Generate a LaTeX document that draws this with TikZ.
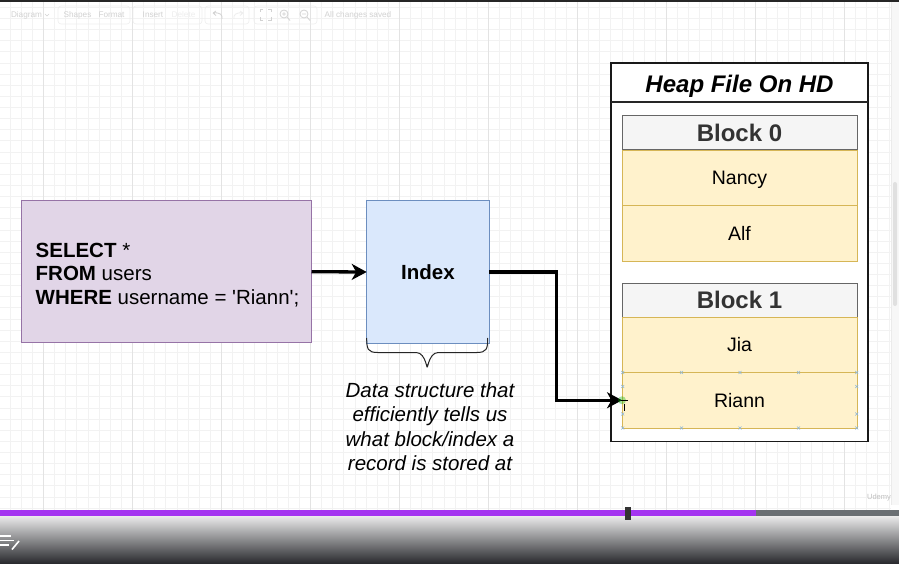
\documentclass[tikz,border=0pt]{standalone}
\usepackage{fontspec}
\setmainfont{Liberation Sans}[Ligatures=TeXOff]
\usetikzlibrary{arrows.meta}
\definecolor{gridminor}{HTML}{F2F2F2}
\definecolor{gridmajor}{HTML}{E3E3E3}
\definecolor{sqlfill}{HTML}{E1D5E7}
\definecolor{sqlline}{HTML}{9673A6}
\definecolor{idxfill}{HTML}{DAE8FC}
\definecolor{idxline}{HTML}{6C8EBF}
\definecolor{rowfill}{HTML}{FFF2CC}
\definecolor{rowline}{HTML}{D6B656}
\definecolor{hdrfill}{HTML}{F5F5F5}
\definecolor{hdrline}{HTML}{666666}
\definecolor{hdrtext}{HTML}{333333}
\definecolor{uifaint}{HTML}{D2D2D2}
\definecolor{uibox}{HTML}{EEEEEE}
\definecolor{selcol}{HTML}{8DB6D8}
\definecolor{udpurple}{HTML}{A435F0}
\definecolor{udgray}{HTML}{6A6F73}
\definecolor{uddark}{HTML}{26272B}
\begin{document}
\begin{tikzpicture}[x=1pt,y=-1pt,
  sqlbox/.style={draw=sqlline,fill=sqlfill,line width=1pt,inner sep=0pt,outer sep=0pt},
  idxbox/.style={draw=idxline,fill=idxfill,line width=1pt,inner sep=0pt,outer sep=0pt,
     text height=14.7pt,text depth=0pt,
     font=\fontsize{20.5}{24}\selectfont\bfseries},
  heapbox/.style={draw=black!90,fill=white,line width=1.4pt,inner sep=0pt,outer sep=0pt},
  heaptitle/.style={font=\fontsize{24}{28}\selectfont\bfseries\itshape,inner sep=0pt,
     text height=17.2pt,text depth=0pt},
  hdrbox/.style={draw=hdrline,fill=hdrfill,line width=1pt,inner sep=0pt,outer sep=0pt,
     minimum width=235pt,minimum height=34pt,anchor=north west,text=hdrtext,
     text height=17.2pt,text depth=0pt,
     font=\fontsize{24}{28}\selectfont\bfseries},
  rowbox/.style={draw=rowline,fill=rowfill,line width=0.9pt,inner sep=0pt,outer sep=0pt,
     minimum width=235pt,minimum height=55.5pt,anchor=north west,
     text height=14pt,text depth=0pt,
     font=\fontsize{19.5}{23}\selectfont},
  conn/.style={line width=3.3pt,-{Stealth[length=15pt,width=16pt,inset=4.5pt]}},
  captext/.style={align=center,font=\fontsize{20.5}{24.5}\selectfont\itshape,inner sep=0pt},
  uitext/.style={text=uifaint,font=\fontsize{8.2}{9}\selectfont,inner sep=0pt},
  uiframe/.style={draw=uibox,line width=0.6pt,rounded corners=3pt},
  uiicon/.style={draw=uifaint,line width=0.8pt},
  selx/.pic={\draw[selcol,line width=0.6pt] (-1.5,-1.5)--(1.5,1.5) (-1.5,1.5)--(1.5,-1.5);}
]
\useasboundingbox (0,0) rectangle (899,564);
\fill[white] (0,0) rectangle (899,564);
% grid
\foreach \i in {0,...,81} {
  \draw[gridminor,line width=0.6pt] ({-1.2+11.125*\i},2) -- ({-1.2+11.125*\i},520);
}
\foreach \j in {0,...,46} {
  \draw[gridminor,line width=0.6pt] (0,{7.3+11.125*\j}) -- (891,{7.3+11.125*\j});
}
\foreach \i in {0,...,9} {
  \draw[gridmajor,line width=0.7pt] ({43.3+89*\i},2) -- ({43.3+89*\i},520);
}
% top line
\fill[black!85] (0,0) rectangle (899,2);
% toolbar (faint)
\node[uitext] (tDiagram) at (26.5,15) {Diagram};
\draw[uiicon,line width=0.6pt] (45,14) -- (47,16) -- (49,14);
\draw[uiframe] (58,6) rectangle (130,24);
\node[uitext] (tShapes) at (77.5,15) {Shapes};
\node[uitext] (tFormat) at (111.5,15) {Format};
\draw[uiframe] (133,6) rectangle (202,24);
\node[uitext] (tInsert) at (153,15) {Insert};
\node[uitext,text=uibox] (tDelete) at (183.5,15) {Delete};
\draw[uiframe] (205,6) rectangle (249,24);
\draw[uiicon] (213,13) -- (216,11) (213,13) -- (216,15.5) (213,13) .. controls (220,12) and (223,15) .. (222,19);
\draw[uiicon,draw=uibox] (243,13) -- (240,11) (243,13) -- (240,15.5) (243,13) .. controls (236,12) and (233,15) .. (234,19);
\draw[uiframe] (254,6) rectangle (317,24);
\draw[uiicon] (260,12) -- (260,9.5) -- (263,9.5) (268,9.5) -- (271,9.5) -- (271,12)
  (271,17) -- (271,20) -- (268,20) (263,20) -- (260,20) -- (260,17);
\draw[uiicon] (284,14) circle (4);
\draw[uiicon] (287,17) -- (290,20.5) (282,14) -- (286,14) (284,12) -- (284,16);
\draw[uiicon] (304,14) circle (4);
\draw[uiicon] (307,17) -- (310,20.5) (302,14) -- (306,14);
\node[uitext] (tSaved) at (358,15) {All changes saved};
% scrollbar
\fill[black!3] (891,2) rectangle (899,505);
\draw[black!8,line width=0.5pt] (891,2) -- (891,505);
\fill[black!12,rounded corners=2pt] (893,182) rectangle (897,306);

% SQL box
\node[sqlbox,minimum width=290pt,minimum height=142pt,anchor=north west] (sql) at (21.5,200.7) {};
\node[anchor=west,align=left,inner sep=0pt,font=\fontsize{20.5}{23.5}\selectfont] (sqltext) at (35.5,275)
  {\textbf{SELECT} *\\\textbf{FROM} users\\\textbf{WHERE} username = 'Riann';};
% Index box
\node[idxbox,minimum width=122.5pt,minimum height=142pt,anchor=north west] (index) at (366.7,201) {Index};
% brace
\draw[black!85,line width=1pt] ([yshift=5pt]index.south west) coordinate (b1)
  .. controls ++(0,11) and ++(-10,0) .. ++(11,14.5) -- ++(38.5,0)
  .. controls ++(10.5,0) and ++(0,10) .. ++(11,12) coordinate (btip)
  .. controls ++(0,10) and ++(-10.5,0) .. ++(11,-12) -- ++(38.5,0)
  .. controls ++(10,0) and ++(0,11) .. ++(11,-14.5) coordinate (b2);
\node[captext] (caption) at (430,426.5) {Data structure that\\efficiently tells us\\what block/index a\\record is stored at};

% Heap file
\node[heapbox,minimum width=257pt,minimum height=378.5pt,anchor=north west] (heap) at (611,63) {};
\draw[black!85,line width=1.2pt] (611,102) -- (868,102);
\node[heaptitle] (heapt) at (739.5,83.5) {Heap File On HD};
\node[hdrbox] (blk0) at (622,116) {Block 0};
\node[rowbox] (nancy) at (622,150) {Nancy};
\node[rowbox] (alf) at (622,205.5) {Alf};
\node[hdrbox] (blk1) at (622,283) {Block 1};
\node[rowbox] (jia) at (622,317) {Jia};
\node[rowbox] (riann) at (622,372.5) {Riann};
% selection marks on Riann
\foreach \x in {622.7,681.5,740,798.5,856.7} {
  \pic at (\x,372.5) {selx};
  \pic at (\x,428) {selx};
}
\foreach \y in {386.5,414} {
  \pic at (622.7,\y) {selx};
  \pic at (856.7,\y) {selx};
}

% connectors
\draw[conn] (sql.east) -- (index.west);
\draw[conn] (index.east) -- (556.7,272) |- (riann.west);
\fill[green!70!black,opacity=0.35] (riann.west) circle (4);
\draw[black,line width=0.6pt] ([xshift=-1pt]riann.west) -- ++(7,0) ([xshift=2.5pt,yshift=-3.5pt]riann.west) -- ++(0,7);

% bottom video bar
\shade[top color=black!8,middle color=black!42,bottom color=uddark] (0,516) rectangle (899,564);
\fill[udpurple] (0,510) rectangle (756,516);
\fill[udgray] (756,510) rectangle (899,516);
\fill[black!80] (625,507) rectangle (631,519.5);
\node[text=black!25,font=\fontsize{7.5}{8}\selectfont,inner sep=0pt] (udemy) at (879,497.5) {Udemy};
\draw[white,line width=1.6pt] (0,536) -- (11,536) (0,540.5) -- (14,540.5) (0,545) -- (9,545);
\draw[white,line width=1.6pt] (12,549.5) -- (19,541);
\end{tikzpicture}
\end{document}
